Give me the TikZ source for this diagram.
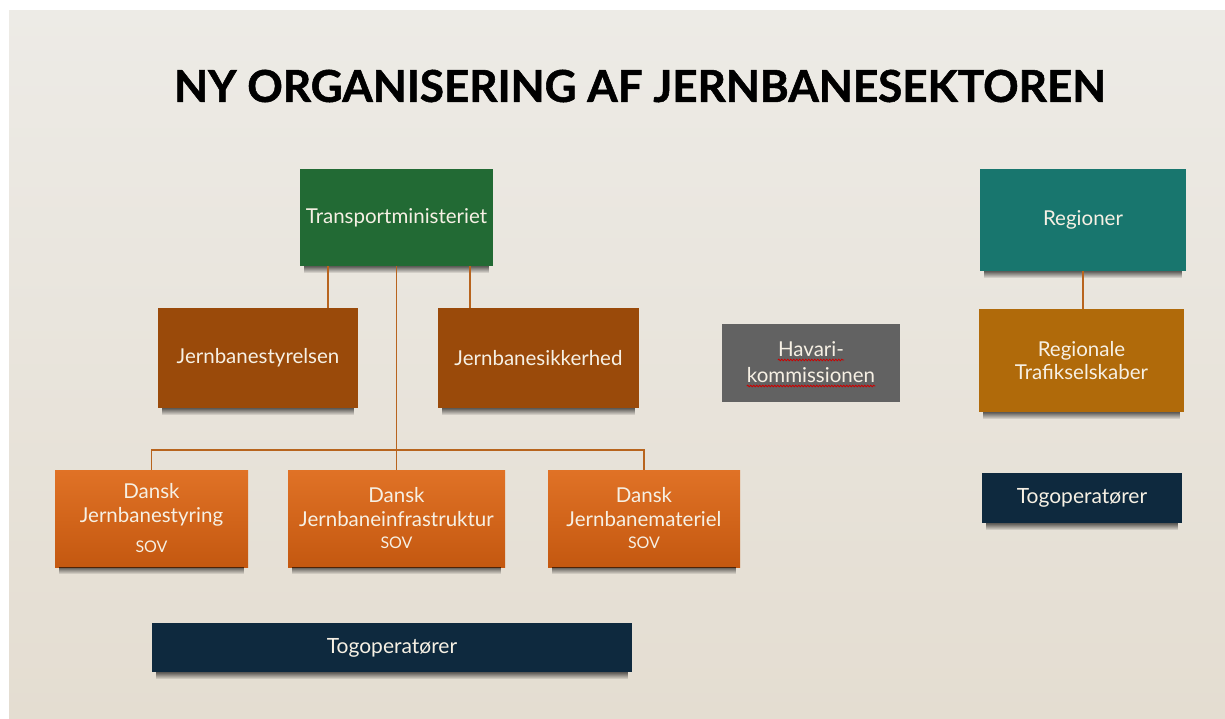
\documentclass[tikz,border=0pt]{standalone}
\usepackage{fontspec}
\setmainfont{Lato}
\newfontfamily\titlefont[FakeBold=1.2]{Lato Bold}
\usetikzlibrary{calc,decorations.pathmorphing,fadings}
\definecolor{bgtop}{RGB}{237,235,230}
\definecolor{bgbot}{RGB}{228,221,209}
\definecolor{tmgreen}{RGB}{34,106,52}
\definecolor{brown1}{RGB}{154,74,10}
\definecolor{orangeT}{RGB}{224,114,38}
\definecolor{orangeB}{RGB}{196,88,16}
\definecolor{hgray}{RGB}{98,98,98}
\definecolor{teal1}{RGB}{24,118,110}
\definecolor{gold1}{RGB}{176,106,10}
\definecolor{navy1}{RGB}{14,41,62}
\definecolor{conncol}{RGB}{184,100,30}
\definecolor{txtcol}{RGB}{246,240,228}
\newcommand{\boxshadow}[1]{%
  \fill[black, path fading=south, fill opacity=0.6]
    ($(#1.south west)+(4,0)$) rectangle ($(#1.south east)+(-4,7)$);}
\begin{document}
\begin{tikzpicture}[x=1pt,y=-1pt,
  box/.style={inner sep=0pt, align=center, text=txtcol,
    font=\fontsize{20.5}{23.5}\selectfont},
  sov/.style={font=\fontsize{16}{18}\selectfont},
  lbl/.style={inner sep=0pt, anchor=base, text=txtcol, font=\fontsize{20.5}{23.5}\selectfont},
  conn/.style={draw=conncol, line width=1.4pt},
  squig/.style={draw=red!80!black, line width=0.8pt, decorate,
    decoration={snake, amplitude=0.8pt, segment length=3pt}}]
\useasboundingbox (0,0) rectangle (1225,718);
\fill[white] (0,0) rectangle (1225,718);
\shade[top color=bgtop, bottom color=bgbot] (9,10) rectangle (1225,718);

\node[font=\titlefont\fontsize{44}{48}\selectfont, text=black] (title) at (640,86) {NY ORGANISERING AF JERNBANESEKTOREN};

\node[box, fill=tmgreen, minimum width=193, minimum height=97] (tm) at (396.5,217.5) {Transportministeriet};
\node[box, fill=brown1, minimum width=200, minimum height=100] (js) at (258,358) {Jernbanestyrelsen};
\node[box, fill=brown1, minimum width=201, minimum height=100] (jsk) at (538.5,358) {Jernbanesikkerhed};

\node[box, top color=orangeT, bottom color=orangeB, minimum width=193, minimum height=97] (djs) at (151.5,518.5) {Dansk\\Jernbanestyring\\[7pt]{\fontsize{16}{18}\selectfont SOV}};
\node[box, top color=orangeT, bottom color=orangeB, minimum width=217, minimum height=97] (dji) at (396.5,518.5) {Dansk\\Jernbaneinfrastruktur\\[-1pt]{\fontsize{16}{18}\selectfont SOV}};
\node[box, top color=orangeT, bottom color=orangeB, minimum width=192, minimum height=97] (djm) at (644,518.5) {Dansk\\Jernbanemateriel\\[-1pt]{\fontsize{16}{18}\selectfont SOV}};

\node[box, fill=navy1, minimum width=480, minimum height=49, font=\fontsize{21}{24}\selectfont] (tog1) at (392,647.5) {Togoperatører};

\node[box, fill=hgray, minimum width=178, minimum height=78] (hk) at (811,363) {};
\node[lbl] (hk1) at (811,356) {Havari-};
\node[lbl] (hk2) at (811,382) {kommissionen};

\node[box, fill=teal1, minimum width=206, minimum height=102] (reg) at (1083,220) {Regioner};
\node[box, fill=gold1, minimum width=205, minimum height=103] (regt) at (1081.5,360.5) {Regionale\\Trafikselskaber};
\node[box, fill=navy1, minimum width=200, minimum height=50, font=\fontsize{21}{24}\selectfont] (tog2) at (1082,498) {Togoperatører};

\foreach \n in {tm,js,jsk,djs,dji,djm,tog1,reg,regt,tog2} {\boxshadow{\n}}

\coordinate (bus) at (396.5,450);
\draw[conn] (tm.south -| 328,0) -- (js.north -| 328,0);
\draw[conn] (tm.south -| 470,0) -- (jsk.north -| 470,0);
\draw[conn] (tm.south) -- (dji.north);
\draw[conn] (djs.north) |- (bus) -| (djm.north);
\draw[conn] (reg.south) -- (reg.south |- regt.north);

\draw[squig] ($(hk1.base west)+(0,4)$) -- ($(hk1.base east)+(0,4)$);
\draw[squig] ($(hk2.base west)+(0,4)$) -- ($(hk2.base east)+(0,4)$);
\end{tikzpicture}
\end{document}
